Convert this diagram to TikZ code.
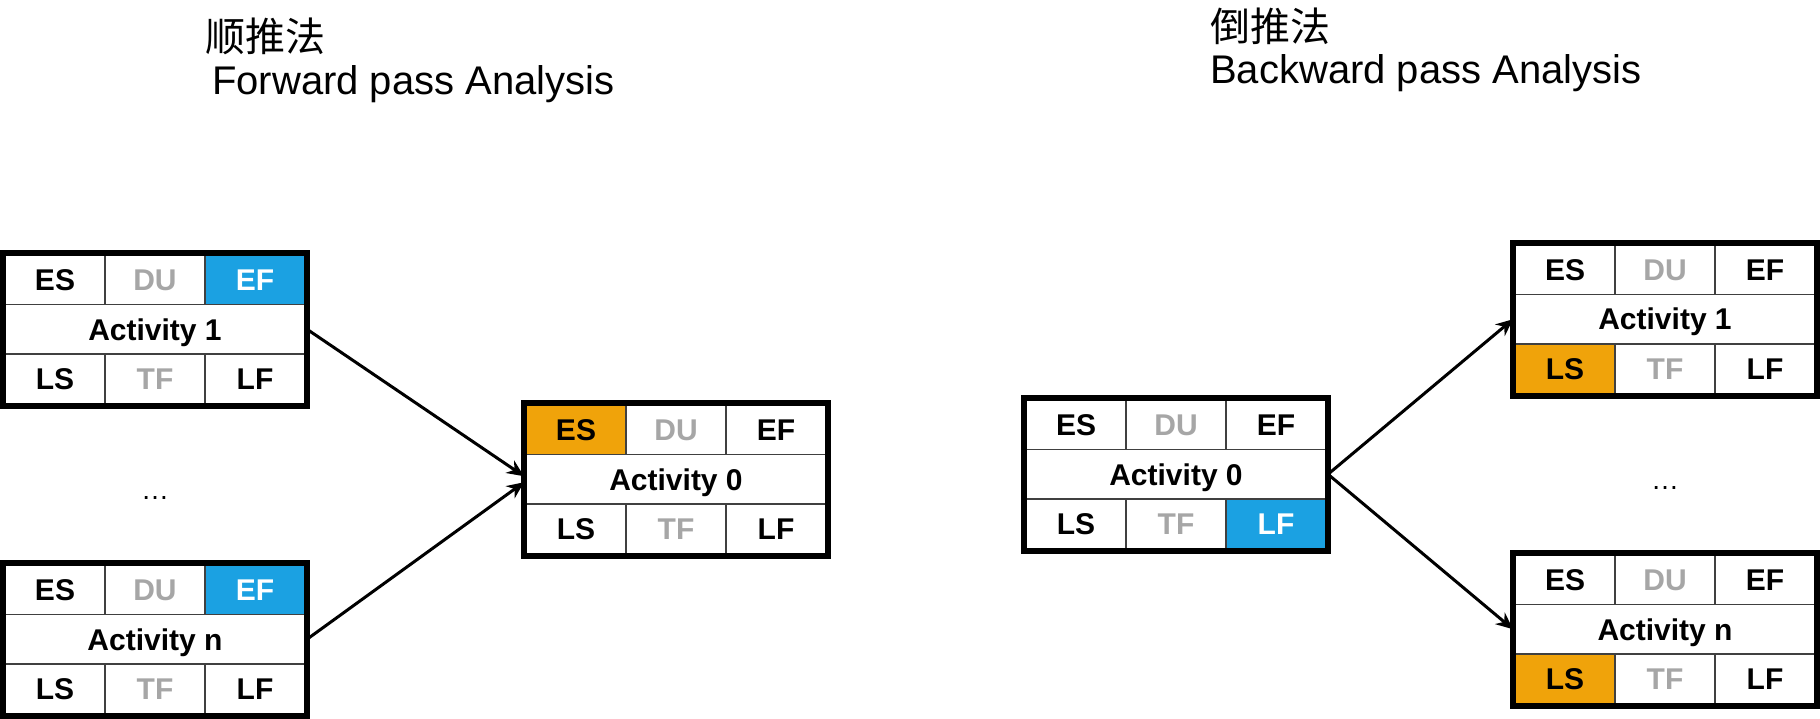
\documentclass[tikz,border=0pt]{standalone}
\usepackage{fontspec}
\setmainfont{Liberation Sans}
\newfontfamily\cjk{Noto Sans CJK SC}
\usetikzlibrary{arrows.meta}
\definecolor{cpmblue}{HTML}{1BA1E2}
\definecolor{cpmorange}{HTML}{F0A30A}
\definecolor{cpmgray}{HTML}{A6A6A6}
\definecolor{cellline}{HTML}{404040}
\tikzset{
  cell/.style={rectangle, draw=cellline, line width=1.5pt, anchor=north west,
    minimum width=100pt, minimum height=49.5pt, inner sep=0pt, outer sep=0pt,
    text height=21.5pt, text depth=0pt,
    font=\bfseries\fontsize{30}{32}\selectfont},
  widecell/.style={cell, minimum width=300pt},
  grayt/.style={text=cpmgray},
  plain/.style={fill=white, text=black},
  bluecell/.style={fill=cpmblue, text=white},
  orangecell/.style={fill=cpmorange, text=black},
  outerbox/.style={rectangle, draw=black, line width=6pt, anchor=north west,
    minimum width=304pt, minimum height=152.5pt, inner sep=0pt, outer sep=0pt},
  arr/.style={line width=3pt, -{Stealth[length=17pt, width=15pt]}},
  cntitle/.style={anchor=base west, inner sep=0pt, font=\cjk\fontsize{40}{48}\selectfont},
  entitle/.style={anchor=base west, inner sep=0pt, font=\fontsize{40}{48}\selectfont},
  dots/.style={anchor=base, inner sep=0pt, font=\fontsize{28}{30}\selectfont}
}
% #1 name, #2 x, #3 y, #4 activity label, #5 ES style, #6 EF style, #7 LS style, #8 LF style
\newcommand{\actbox}[8]{%
  \begin{scope}[shift={(#2,#3)}]
    \node[cell,#5] (#1-es) at (0,0) {ES};
    \node[cell,grayt] (#1-du) at (100,0) {DU};
    \node[cell,#6] (#1-ef) at (200,0) {EF};
    \node[widecell] (#1-act) at (0,49.5) {#4};
    \node[cell,#7] (#1-ls) at (0,99) {LS};
    \node[cell,grayt] (#1-tf) at (100,99) {TF};
    \node[cell,#8] (#1-lf) at (200,99) {LF};
    \node[outerbox] (#1) at (-2,-2) {};
  \end{scope}}
\begin{document}
\begin{tikzpicture}[x=1pt, y=-1pt]
\useasboundingbox[fill=white] (0,0) rectangle (1820,719);

% titles
\node[cntitle] (t1cn) at (205,52) {顺推法};
\node[entitle] (t1en) at (212,95) {Forward pass Analysis};
\node[cntitle] (t2cn) at (1210,42) {倒推法};
\node[entitle] (t2en) at (1210,84) {Backward pass Analysis};

% forward pass
\actbox{F1}{5}{255}{Activity 1}{plain}{bluecell}{plain}{plain}
\actbox{Fn}{5}{565}{Activity n}{plain}{bluecell}{plain}{plain}
\actbox{F0}{526}{405}{Activity 0}{orangecell}{plain}{plain}{plain}
\node[dots] (fdots) at (155,499) {…};

% backward pass
\actbox{B0}{1026}{400}{Activity 0}{plain}{plain}{plain}{bluecell}
\actbox{B1}{1515}{245}{Activity 1}{plain}{plain}{orangecell}{plain}
\actbox{Bn}{1515}{555}{Activity n}{plain}{plain}{orangecell}{plain}
\node[dots] (bdots) at (1665,489) {…};

% connectors
\draw[arr] (F1.east) -- ([yshift=3pt]F0.west);
\draw[arr] (Fn.east) -- ([yshift=-3pt]F0.west);
\draw[arr] (B0.east) -- (B1.west);
\draw[arr] (B0.east) -- (Bn.west);
\end{tikzpicture}
\end{document}
